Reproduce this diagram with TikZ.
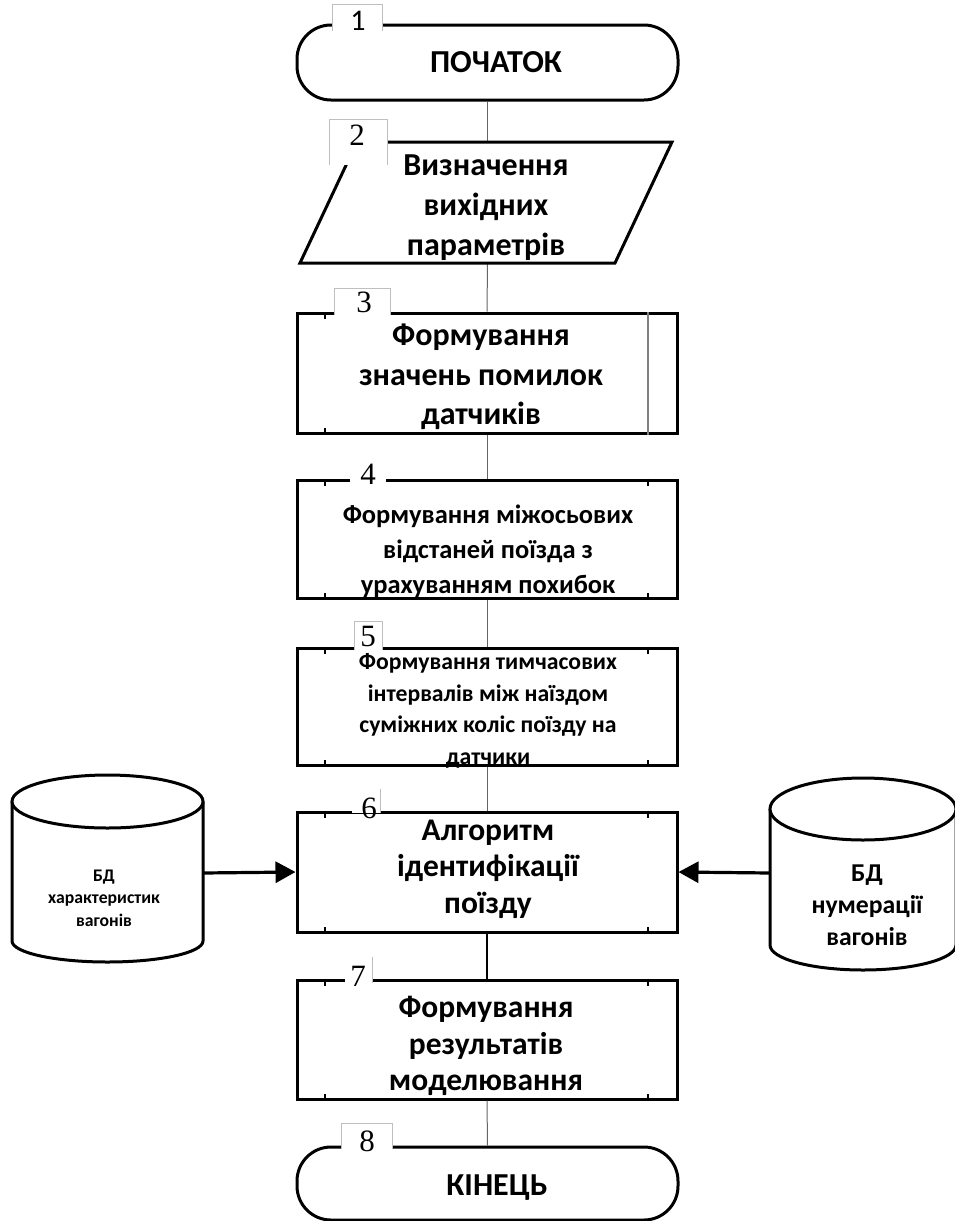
\documentclass[tikz,border=0pt]{standalone}
\usepackage{fontspec}
\setmainfont{Liberation Serif}
\newfontfamily\capfont{Carlito}
\usetikzlibrary{arrows.meta}

\begin{document}
\begin{tikzpicture}[x=1pt,y=-1pt,
  outline/.style={draw=black,line width=3pt,fill=white},
  term/.style={outline,rectangle,rounded corners=34pt,minimum width=381pt,inner sep=0pt},
  proc/.style={outline,rectangle,minimum width=380pt,inner sep=0pt},
  txt/.style={align=center,inner sep=0pt,font=\capfont\bfseries},
  numbox/.style={fill=white,inner sep=0pt},
  numedge/.style={draw=black!25,line width=0.8pt},
  numtxt/.style={inner sep=0pt,font=\fontsize{31}{31}\selectfont},
  link/.style={draw=black!60,line width=1pt},
  boldlink/.style={draw=black,line width=2pt},
  feed/.style={draw=black,line width=3.2pt,-{Triangle[length=20pt,width=21pt]}},
  tickmark/.style={line width=1.8pt},
  cyl/.style={draw=black,line width=3pt,fill=white}
]
\useasboundingbox (0,0) rectangle (955,1221);

% ---------- connector ends on the parallelogram ----------
\coordinate (par-n) at (487.5,142);
\coordinate (par-s) at (487.5,263);

% ---------- shapes ----------
\node[term,minimum height=75pt] (start) at (487.5,62.5) {};
\node[term,minimum height=73pt] (finish) at (487.5,1183.5) {};

\node[proc,minimum height=120pt] (b3) at (487,373) {};
\node[proc,minimum height=118pt] (b4) at (487,539) {};
\node[proc,minimum height=117pt] (b5) at (487,706.5) {};
\node[proc,minimum height=120pt] (b6) at (487,872) {};
\node[proc,minimum height=119pt] (b7) at (487,1039.5) {};

\draw[link] (start.south) -- (par-n);
\draw[link] (par-s) -- (b3.north);
\draw[link] (b3.south) -- (b4.north);
\draw[link] (b4.south) -- (b5.north);
\draw[link] (b5.south) -- (b6.north);
\draw[boldlink] (b6.south) -- (b7.north);
\draw[link] (b7.south) -- (finish.north);

% data input parallelogram
\draw[outline,line join=miter] (357,142) -- (672,142) -- (615,263) -- (300,263) -- cycle;

% inner line of the subroutine box
\draw[draw=black!50,line width=1.4pt] ([xshift=161pt]b3.north) -- ([xshift=161pt]b3.south);

% small ticks near the corners of the process boxes
\foreach \b in {b3,b4,b5,b6,b7} {
  \draw[tickmark] ([xshift=-162pt]\b.north) -- ++(0,7);
  \draw[tickmark] ([xshift=-162pt]\b.south) -- ++(0,-7);
}
\foreach \b in {b4,b5,b6,b7} {
  \draw[tickmark] ([xshift=161pt]\b.north) -- ++(0,7);
  \draw[tickmark] ([xshift=161pt]\b.south) -- ++(0,-7);
}

% ---------- databases ----------
\draw[cyl] (12,801.5) -- (12,941) arc[start angle=180,end angle=0,x radius=95.5,y radius=21] -- (203,801.5);
\draw[cyl] (107.5,801.5) ellipse[x radius=95.5,y radius=26.5];
\coordinate (dbL) at (203,873);

\draw[cyl] (770,809) -- (770,945) arc[start angle=180,end angle=0,x radius=93,y radius=25] -- (956,809);
\draw[cyl] (863,809) ellipse[x radius=93,y radius=31];
\coordinate (dbR) at (770,873);

\draw[feed] (dbL) -- (b6.west);
\draw[feed] (dbR) -- (b6.east);

% ---------- texts ----------
\node[txt,font=\capfont\bfseries\fontsize{32}{34}\selectfont] (t1) at (496,62) {ПОЧАТОК};
\node[txt,font=\capfont\bfseries\fontsize{32}{40}\selectfont] (t2) at (486,208) {Визначення\\вихідних\\параметрів};
\node[txt,font=\capfont\bfseries\fontsize{32}{39.5}\selectfont] (t3) at (481,377) {Формування\\значень помилок\\датчиків};
\node[txt,font=\capfont\bfseries\fontsize{26.5}{35}\selectfont] (t4) at (488,551) {Формування міжосьових\\відстаней поїзда з\\урахуванням похибок};
\node[txt,font=\capfont\bfseries\fontsize{23.7}{31.5}\selectfont] (t5) at (488,711) {Формування тимчасових\\інтервалів між наїздом\\суміжних коліс поїзду на\\датчики};
\node[txt,font=\capfont\bfseries\fontsize{31.5}{36.5}\selectfont] (t6) at (488,869) {Алгоритм\\ідентифікації\\поїзду};
\node[txt,font=\capfont\bfseries\fontsize{31.5}{36.5}\selectfont] (t7) at (486,1046) {Формування\\результатів\\моделювання};
\node[txt,font=\capfont\bfseries\fontsize{32}{34}\selectfont] (t8) at (497,1188) {КІНЕЦЬ};
\node[txt,font=\capfont\bfseries\fontsize{17.7}{22.5}\selectfont] (tL) at (104,898) {БД\\характеристик\\вагонів};
\node[txt,font=\capfont\bfseries\fontsize{25.7}{32}\selectfont] (tR) at (867,905) {БД\\нумерації\\вагонів};

% ---------- step numbers ----------
\node[numbox,minimum width=49pt,minimum height=26pt] (n1) at (357.5,18) {};
\node[numbox,minimum width=57pt,minimum height=45pt] (n2) at (358.5,142.5) {};
\node[numbox,minimum width=55pt,minimum height=26pt] (n3) at (362.5,302) {};
\node[numbox,minimum width=36pt,minimum height=22pt] (n4) at (368,472) {};
\node[numbox,minimum width=27pt,minimum height=28pt] (n5) at (368.5,636) {};
\node[numbox,minimum width=28pt,minimum height=24pt] (n6) at (366,801) {};
\node[numbox,minimum width=27pt,minimum height=26pt] (n7) at (358.5,970) {};
\node[numbox,minimum width=50pt,minimum height=25pt] (n8) at (367,1136.5) {};
\foreach \n in {n1,n2,n3,n5,n8} {
  \draw[numedge] (\n.south west) -- (\n.north west) -- (\n.north east) -- (\n.south east);
}
\draw[numedge] (n6.north east) -- (n6.south east);
\draw[numedge] (n7.north east) -- (n7.south east);

\node[numtxt,font=\capfont\fontsize{30}{30}\selectfont] (d1) at (358,21) {1};
\node[numtxt] (d2) at (357,135) {2};
\node[numtxt] (d3) at (364,302) {3};
\node[numtxt] (d4) at (368,474) {4};
\node[numtxt] (d5) at (368,636) {5};
\node[numtxt] (d6) at (369,808) {6};
\node[numtxt] (d7) at (358,976) {7};
\node[numtxt] (d8) at (367,1141) {8};
\end{tikzpicture}
\end{document}
